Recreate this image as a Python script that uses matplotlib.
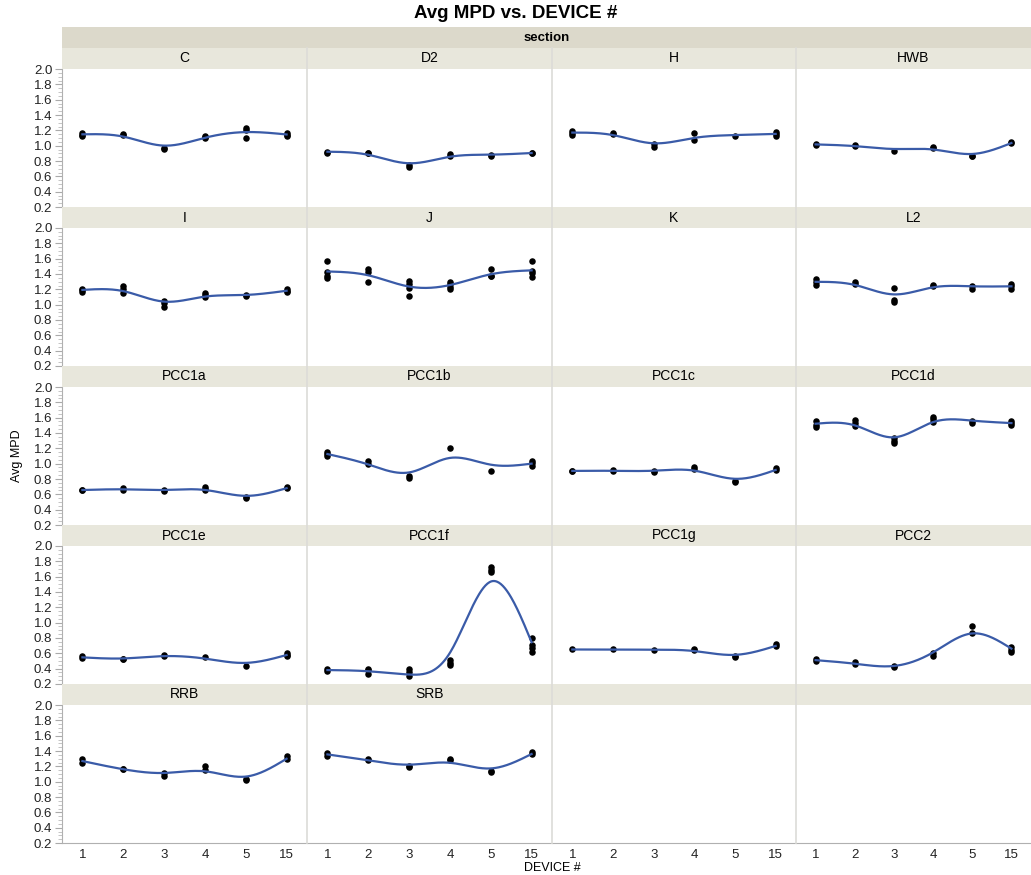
import numpy as np
import matplotlib
matplotlib.use("Agg")
import matplotlib.pyplot as plt
from matplotlib.ticker import MultipleLocator, FormatStrFormatter
from matplotlib.patches import Rectangle
from matplotlib.lines import Line2D

plt.rcParams['font.family'] = ['Liberation Sans', 'DejaVu Sans']

devices = ['1', '2', '3', '4', '5', '15']
sections = ['C', 'D2', 'H', 'HWB', 'I', 'J', 'K', 'L2',
            'PCC1a', 'PCC1b', 'PCC1c', 'PCC1d', 'PCC1e', 'PCC1f', 'PCC1g', 'PCC2',
            'RRB', 'SRB']

# Avg MPD readings, one list per device (1, 2, 3, 4, 5, 15)
mpd_C = [[1.16, 1.14, 1.13], [1.15, 1.14], [0.97, 0.96], [1.13, 1.11, 1.10], [1.23, 1.21, 1.10], [1.16, 1.14, 1.13]]
mpd_D2 = [[0.92, 0.91], [0.91, 0.90], [0.75, 0.72], [0.89, 0.87], [0.88, 0.87], [0.91, 0.90]]
mpd_H = [[1.19, 1.17, 1.14], [1.17, 1.15], [1.02, 0.98], [1.16, 1.08], [1.13], [1.18, 1.15, 1.13]]
mpd_HWB = [[1.02, 1.01], [1.01, 0.99], [0.93], [0.98, 0.97], [0.87, 0.86], [1.05, 1.04]]
mpd_I = [[1.21, 1.19, 1.16], [1.24, 1.20, 1.15], [1.05, 1.02, 0.97], [1.15, 1.12, 1.10], [1.12, 1.11], [1.20, 1.18, 1.17]]
mpd_J = [[1.57, 1.42, 1.38, 1.35], [1.47, 1.43, 1.29], [1.31, 1.27, 1.22, 1.11], [1.30, 1.27, 1.23, 1.21], [1.47, 1.38, 1.37], [1.57, 1.44, 1.41, 1.36]]
mpd_K = [[], [], [], [], [], []]
mpd_L2 = [[1.33, 1.29, 1.26], [1.30, 1.27], [1.22, 1.06, 1.04], [1.26, 1.25], [1.25, 1.21], [1.27, 1.24, 1.21]]
mpd_PCC1a = [[0.66, 0.65], [0.68, 0.66], [0.65, 0.64], [0.70, 0.67, 0.65], [0.56, 0.55], [0.70, 0.68]]
mpd_PCC1b = [[1.15, 1.12, 1.10], [1.03, 1.00], [0.84, 0.81], [1.21], [0.91], [1.04, 1.01, 0.97]]
mpd_PCC1c = [[0.91, 0.90], [0.92, 0.90], [0.90, 0.89], [0.95, 0.93], [0.78, 0.76], [0.94, 0.92]]
mpd_PCC1d = [[1.55, 1.51, 1.48], [1.57, 1.53, 1.49], [1.33, 1.29, 1.27], [1.61, 1.58, 1.54], [1.56, 1.53], [1.56, 1.53, 1.50]]
mpd_PCC1e = [[0.56, 0.54], [0.53, 0.52], [0.58, 0.56], [0.55], [0.44], [0.61, 0.58, 0.56]]
mpd_PCC1f = [[0.39, 0.37], [0.40, 0.38, 0.33], [0.40, 0.35, 0.31], [0.51, 0.48, 0.45], [1.72, 1.69, 1.66], [0.80, 0.71, 0.67, 0.62]]
mpd_PCC1g = [[0.65], [0.65], [0.64], [0.65, 0.64], [0.57, 0.55], [0.72, 0.69]]
mpd_PCC2 = [[0.52, 0.50], [0.49, 0.46], [0.43, 0.42], [0.61, 0.56], [0.96, 0.86], [0.68, 0.64, 0.62]]
mpd_RRB = [[1.29, 1.25], [1.17, 1.16], [1.11, 1.08], [1.20, 1.15], [1.03, 1.02], [1.33, 1.30]]
mpd_SRB = [[1.37, 1.34], [1.29, 1.28], [1.21, 1.19], [1.29, 1.28], [1.14, 1.13], [1.39, 1.36]]

mpd = {'C': mpd_C, 'D2': mpd_D2, 'H': mpd_H, 'HWB': mpd_HWB, 'I': mpd_I, 'J': mpd_J,
       'K': mpd_K, 'L2': mpd_L2, 'PCC1a': mpd_PCC1a, 'PCC1b': mpd_PCC1b,
       'PCC1c': mpd_PCC1c, 'PCC1d': mpd_PCC1d, 'PCC1e': mpd_PCC1e, 'PCC1f': mpd_PCC1f,
       'PCC1g': mpd_PCC1g, 'PCC2': mpd_PCC2, 'RRB': mpd_RRB, 'SRB': mpd_SRB}

LAM = 0.06


def smooth_spline(x, y, lam, xs):
    # cubic smoothing spline (Reinsch form), knots at the distinct x values
    t = np.unique(x)
    n = len(t)
    h = np.diff(t)
    w = np.array([np.sum(x == v) for v in t], float)
    ybar = np.array([y[x == v].mean() for v in t])
    Q = np.zeros((n, n - 2))
    R = np.zeros((n - 2, n - 2))
    for j in range(1, n - 1):
        Q[j - 1, j - 1] = 1 / h[j - 1]
        Q[j, j - 1] = -1 / h[j - 1] - 1 / h[j]
        Q[j + 1, j - 1] = 1 / h[j]
        R[j - 1, j - 1] = (h[j - 1] + h[j]) / 3
        if j < n - 2:
            R[j - 1, j] = R[j, j - 1] = h[j] / 6
    K = Q @ np.linalg.solve(R, Q.T)
    g = np.linalg.solve(np.diag(w) + lam * K, w * ybar)
    gam = np.zeros(n)
    gam[1:-1] = np.linalg.solve(R, Q.T @ g)
    i = np.clip(np.searchsorted(t, xs, side='right') - 1, 0, n - 2)
    a = xs - t[i]
    b = t[i + 1] - xs
    hh = h[i]
    return (a * g[i + 1] + b * g[i]) / hh - a * b / 6 * ((1 + a / hh) * gam[i + 1] + (1 + b / hh) * gam[i])


W, H = 1031, 875
fig = plt.figure(figsize=(W / 100, H / 100), dpi=100)


def rect(x0, y0, x1, y1):
    return [x0 / W, 1 - y1 / H, (x1 - x0) / W, (y1 - y0) / H]


col_x = [62, 307, 552, 796, 1031]
header_col = '#e8e7dc'
band_col = '#dcd9cb'
sep_col = '#dcdcd8'
line_col = '#3a5ba8'

fig.text(0.5, 1 - 14 / H, 'Avg MPD vs. DEVICE #', ha='center', va='center',
         fontsize=13.5, fontweight='bold')
fig.patches.append(Rectangle((62 / W, 1 - 48 / H), (1031 - 62) / W, 21 / H,
                             transform=fig.transFigure, facecolor=band_col, edgecolor='none'))
fig.text(546.5 / W, 1 - 38 / H, 'section', ha='center', va='center', fontsize=9.5, fontweight='bold')

xs = np.linspace(0, 5, 200)
for r in range(5):
    top = 48 + 159 * r
    for c in range(4):
        k = r * 4 + c
        name = sections[k] if k < len(sections) else ''
        x0, x1 = col_x[c], col_x[c + 1]
        fig.patches.append(Rectangle((x0 / W, 1 - (top + 21) / H), (x1 - x0) / W, 21 / H,
                                     transform=fig.transFigure, facecolor=header_col, edgecolor='none'))
        fig.text((x0 + x1) / 2 / W, 1 - (top + 10.5) / H, name, ha='center', va='center', fontsize=10)

        ax = fig.add_axes(rect(x0, top + 21, x1, top + 159))
        ax.set_xlim(-0.5, 5.5)
        ax.set_ylim(0.2, 2.0)
        for s in ax.spines.values():
            s.set_visible(False)
        ax.yaxis.set_major_locator(MultipleLocator(0.2))
        ax.yaxis.set_minor_locator(MultipleLocator(0.05))
        ax.yaxis.set_major_formatter(FormatStrFormatter('%.1f'))
        ax.set_xticks(range(6))
        ax.set_xticklabels(devices)
        ax.tick_params(axis='x', length=0, pad=4, labelsize=9.5, colors='#222222')
        ax.tick_params(axis='y', which='major', length=5, width=0.8, color='#aaaaaa',
                       labelsize=9.5, labelcolor='#222222', pad=2)
        ax.tick_params(axis='y', which='minor', length=3, width=0.6, color='#bbbbbb')
        if c == 0:
            ax.spines['left'].set_visible(True)
            ax.spines['left'].set_color('#b0b0b0')
        else:
            ax.tick_params(axis='y', which='both', left=False, labelleft=False)
        if r == 4:
            ax.spines['bottom'].set_visible(True)
            ax.spines['bottom'].set_color('#b0b0b0')
        else:
            ax.tick_params(axis='x', labelbottom=False)

        if name and any(len(v) for v in mpd[name]):
            px = np.concatenate([np.full(len(v), i, float) for i, v in enumerate(mpd[name])])
            py = np.concatenate([np.array(v, float) for v in mpd[name]])
            ax.scatter(px, py, s=22, c='black', linewidths=0, zorder=2, clip_on=False)
            ax.plot(xs, smooth_spline(px, py, LAM, xs), color=line_col, lw=1.6, zorder=3)

# column separators run through the strips and the plots
for x in col_x[1:4]:
    fig.lines.append(Line2D([x / W, x / W], [1 - 48 / H, 1 - 843 / H],
                            transform=fig.transFigure, color=sep_col, lw=1.2))

fig.text(17 / W, 1 - 456 / H, 'Avg MPD', rotation=90, ha='center', va='center', fontsize=9)
fig.text(552 / W, 1 - 868 / H, 'DEVICE #', ha='center', va='center', fontsize=9)

fig.savefig('out.png', dpi=100)
